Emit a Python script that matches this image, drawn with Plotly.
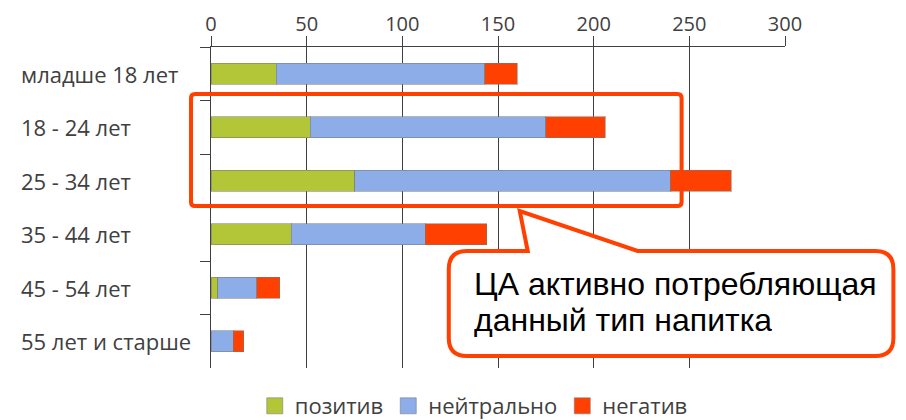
import plotly.graph_objects as go

categories = ["младше 18 лет", "18 - 24 лет", "25 - 34 лет", "35 - 44 лет", "45 - 54 лет", "55 лет и старше"]
positive = [34, 52, 75, 42, 3.5, 0]
neutral = [109, 123, 165, 70, 20.5, 11.5]
negative = [17, 31, 32, 32, 12, 5.5]
series_names = ["позитив", "нейтрально", "негатив"]
colors = ["#B3C638", "#8DADE8", "#FF4000"]
x_ticks = [0, 50, 100, 150, 200, 250, 300]
callout_lines = ["ЦА активно потребляющая", "данный тип напитка"]

# page geometry (body has 8px margin)
OFF = 8
PW, PH = 906, 420
L, R, T, B = 211, 785.5, 47, 368

def px(x):
    return (x - L) / (R - L)

def py(y):
    return (B - y) / (B - T)

fig = go.Figure()
for name, vals, c in zip(series_names, [positive, neutral, negative], colors):
    fig.add_trace(go.Bar(
        y=categories, x=vals, name=name, orientation="h", showlegend=False,
        marker=dict(color=c, line=dict(color="rgba(120,120,120,0.55)", width=1)),
    ))
# legend proxies with larger square swatches
for name, c in zip(series_names, colors):
    fig.add_trace(go.Scatter(x=[None], y=[None], mode="markers", name=name,
                             marker=dict(symbol="square", size=19, color=c,
                                         line=dict(color="rgba(120,120,120,0.55)", width=1))))

font_fam = "Open Sans, DejaVu Sans, sans-serif"
txt_c = "#404040"

def rounded_rect(x0, y0, x1, y1, r):
    return (f"M {px(x0+r)},{py(y0)} L {px(x1-r)},{py(y0)} Q {px(x1)},{py(y0)} {px(x1)},{py(y0+r)} "
            f"L {px(x1)},{py(y1-r)} Q {px(x1)},{py(y1)} {px(x1-r)},{py(y1)} "
            f"L {px(x0+r)},{py(y1)} Q {px(x0)},{py(y1)} {px(x0)},{py(y1-r)} "
            f"L {px(x0)},{py(y0+r)} Q {px(x0)},{py(y0)} {px(x0+r)},{py(y0)} Z")

def callout(x0, y0, x1, y1, r, b0, tipx, tipy, b1):
    return (f"M {px(x0+r)},{py(y0)} L {px(b0)},{py(y0)} L {px(tipx)},{py(tipy)} L {px(b1)},{py(y0)} "
            f"L {px(x1-r)},{py(y0)} Q {px(x1)},{py(y0)} {px(x1)},{py(y0+r)} "
            f"L {px(x1)},{py(y1-r)} Q {px(x1)},{py(y1)} {px(x1-r)},{py(y1)} "
            f"L {px(x0+r)},{py(y1)} Q {px(x0)},{py(y1)} {px(x0)},{py(y1-r)} "
            f"L {px(x0)},{py(y0+r)} Q {px(x0)},{py(y0)} {px(x0+r)},{py(y0)} Z")

red = "#FF4000"
fig.add_shape(type="path", xref="paper", yref="paper",
              path=rounded_rect(191, 94, 682, 206, 4),
              line=dict(color=red, width=4), fillcolor="rgba(0,0,0,0)")
fig.add_shape(type="path", xref="paper", yref="paper",
              path=callout(449, 251, 894, 356, 18, 528, 520, 211, 638),
              line=dict(color=red, width=4), fillcolor="white")

for line_text, yc in zip(callout_lines, [284, 320]):
    fig.add_annotation(xref="paper", yref="paper", x=px(472), y=py(yc),
                       xanchor="left", yanchor="middle", align="left", showarrow=False,
                       text=line_text, height=34,
                       font=dict(family="Liberation Sans, Arial, sans-serif", size=32, color="#000"))

# category labels, left-aligned as in the reference
for cat in categories:
    fig.add_annotation(xref="paper", yref="y", x=px(19), y=cat, xanchor="left", yanchor="middle",
                       showarrow=False, text=cat, font=dict(size=22, color=txt_c, family=font_fam))

grid_c = "#404040"
fig.update_layout(
    width=PW - OFF, height=PH - OFF, barmode="stack", bargap=0.6,
    margin=dict(l=L - OFF, r=PW - R, t=T - OFF, b=PH - B, pad=0, autoexpand=False),
    plot_bgcolor="white", paper_bgcolor="white",
    font=dict(family=font_fam, color=txt_c, size=22),
    showlegend=True,
    legend=dict(orientation="h", x=px(474), xanchor="center", y=py(406), yanchor="middle",
                font=dict(size=22, color=txt_c), itemwidth=30, traceorder="normal",
                itemsizing="trace"),
    xaxis=dict(side="top", range=[0, 300], tickvals=x_ticks, showgrid=True, gridcolor=grid_c,
               gridwidth=1.3, showline=True, linecolor=grid_c, linewidth=1.3, ticks="outside",
               ticklen=10, tickwidth=1.3, tickcolor=grid_c, zeroline=False, tickfont=dict(size=20),
               ticklabelstandoff=-3, automargin=False),
    yaxis=dict(autorange="reversed", showline=True, linecolor=grid_c, linewidth=1.3,
               ticks="outside", ticklen=10, tickwidth=1.3, tickcolor=grid_c, tickson="boundaries",
               showticklabels=False, automargin=False),
)

fig.write_html("out.html")
